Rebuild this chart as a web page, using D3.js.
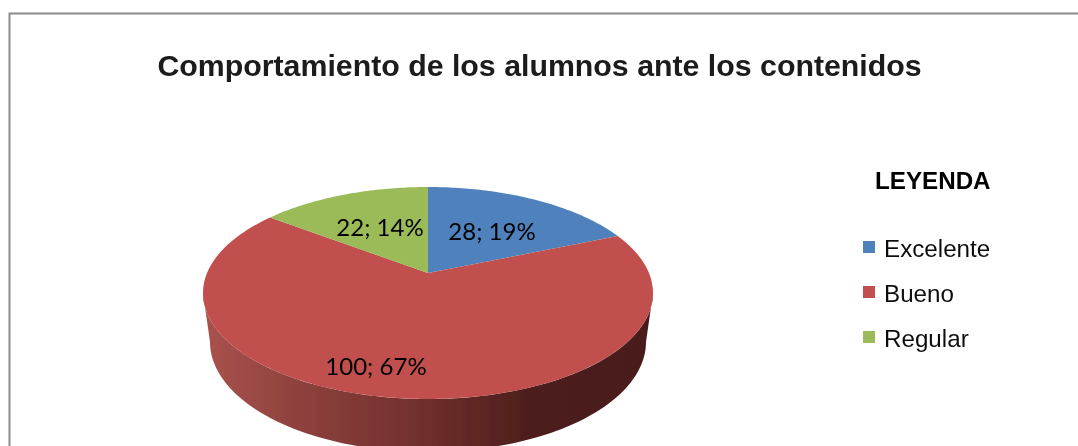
<!DOCTYPE html>
<html>
<head>
<meta charset="utf-8">
<script src="https://cdn.jsdelivr.net/npm/d3@7"></script>
<style>
html,body{margin:0;padding:0;background:#fff;overflow:hidden}
svg{display:block}
</style>
</head>
<body>
<svg id="chart" width="1078" height="446"></svg>
<script>
const categories = ["Excelente", "Bueno", "Regular"];
const values = [28, 100, 22];
const percents = [19, 67, 14];
const colors = ["#4f81bd", "#c0504d", "#9bbb59"];
const titleText = "Comportamiento de los alumnos ante los contenidos";
const legendTitle = "LEYENDA";

const svg = d3.select("#chart");
const defs = svg.append("defs");
defs.append("filter").attr("id","soft").append("feGaussianBlur").attr("stdDeviation",0.7);

const grad = defs.append("linearGradient").attr("id","side")
  .attr("gradientUnits","userSpaceOnUse").attr("x1",205).attr("x2",650).attr("y1",0).attr("y2",0);
[[0,"#a9524e"],[0.2,"#8f423e"],[0.5,"#6f2e2b"],[0.72,"#4e1f1c"],[1,"#4a1e1c"]]
  .forEach(([o,c])=>grad.append("stop").attr("offset",o).attr("stop-color",c));

// Frame
svg.append("path").attr("d","M9.5,446V13.5H1078")
  .attr("fill","none").attr("stroke","#8c8c8c").attr("stroke-width",2);

// Pie geometry
const cx = 428, cyTop = 293, rx = 225, ry = 106;
const apexShift = 0.189;   // perspective shift of the pie centre
const sx = d3.scaleLinear().domain([-1,1]).range([cx-rx,cx+rx]);
const sy = d3.scaleLinear().domain([-1,1]).range([cyTop+ry,cyTop-ry]);
const k = apexShift, s = Math.sqrt(1-k*k);
const project = (a,r=1)=>{
  const x=r*Math.sin(a), y=r*Math.cos(a), d=1+k*y;
  return [sx(x*s/d), sy((y+k)/d)];
};
const pie = d3.pie().sort(null).value(d=>d).startAngle(0).endAngle(2*Math.PI);
const arcs = pie(values);
const line = d3.line();

const g = svg.append("g").attr("filter","url(#soft)");

// Side wall: lower ellipse below, front half only
const botCy = 342, botRx = 218, botRy = 110;
const wallAngles = d3.range(0,181,2).map(d=>d*Math.PI/180);
const wallPts = [];
wallAngles.forEach(t=>wallPts.push([cx-rx*Math.cos(t), cyTop+ry*Math.sin(t)]));
wallAngles.slice().reverse().forEach(t=>wallPts.push([cx-botRx*Math.cos(t), botCy+botRy*Math.sin(t)]));
g.append("path").attr("d",line(wallPts)+"Z").attr("fill","url(#side)");

// Top slices
arcs.forEach((d,i)=>{
  const n = Math.max(8,Math.ceil((d.endAngle-d.startAngle)*60));
  const pts=[project(0,0)];
  d3.range(n+1).forEach(j=>pts.push(project(d.startAngle+(d.endAngle-d.startAngle)*j/n)));
  g.append("path").attr("d",line(pts)+"Z").attr("fill",colors[i]);
});

// Data labels
const labelPos = [[492,231],[376,366],[380,227]];
values.forEach((v,i)=>{
  g.append("text").attr("x",labelPos[i][0]).attr("y",labelPos[i][1])
   .attr("dy","0.36em").attr("text-anchor","middle")
   .attr("font-family","Lato, 'Open Sans', sans-serif").attr("font-size",24)
   .attr("fill","#000").text(`${v}; ${percents[i]}%`);
});

// Title
g.append("text").attr("x",539.5).attr("y",76).attr("text-anchor","middle")
 .attr("font-family","'Liberation Sans', Arial, sans-serif").attr("font-weight","bold")
 .attr("font-size",30.3).attr("fill","#1a1a1a").text(titleText);

// Legend
g.append("text").attr("x",875).attr("y",189)
 .attr("font-family","'Liberation Sans', Arial, sans-serif").attr("font-weight","bold")
 .attr("font-size",24.2).attr("fill","#000").text(legendTitle);
const ly = d3.scalePoint().domain(categories).range([247,337]);
categories.forEach((c,i)=>{
  g.append("rect").attr("x",863).attr("y",ly(c)-6).attr("width",12).attr("height",12).attr("fill",colors[i]);
  g.append("text").attr("x",884).attr("y",ly(c)+10)
   .attr("font-family","'Liberation Sans', Arial, sans-serif")
   .attr("font-size",24.2).attr("fill","#111").text(c);
});
</script>
</body>
</html>
